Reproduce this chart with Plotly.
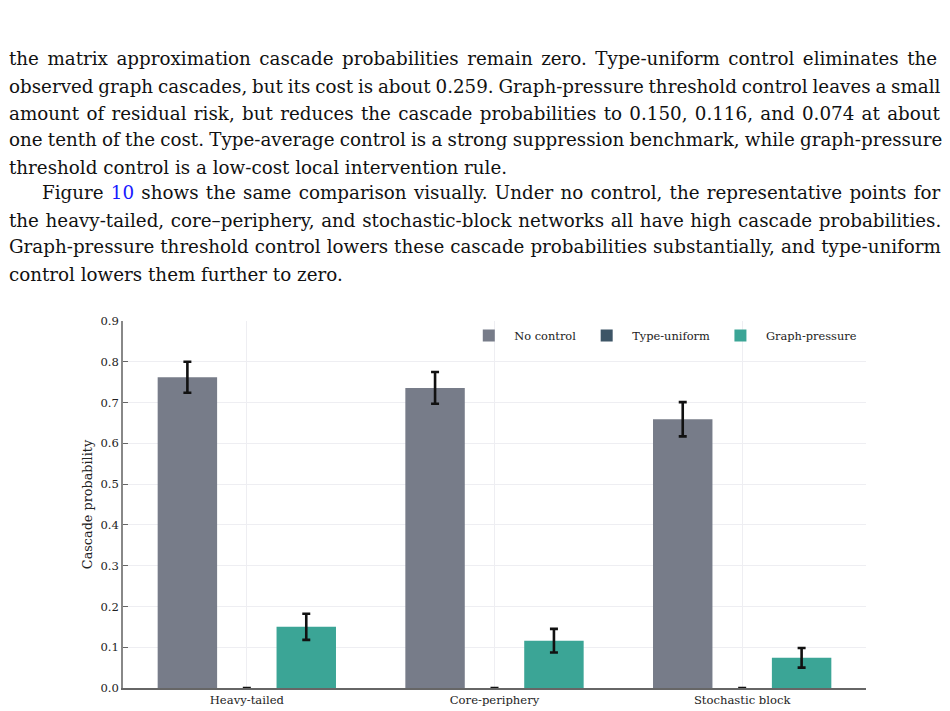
import plotly.graph_objects as go

categories = ["Heavy-tailed", "Core-periphery", "Stochastic block"]
series_names = ["No control", "Type-uniform", "Graph-pressure"]
no_control = [0.762, 0.736, 0.659]
no_control_err = [0.038, 0.039, 0.042]
type_uniform = [0.0, 0.0, 0.0]
type_uniform_err = [0.0, 0.0, 0.0]
graph_pressure = [0.150, 0.116, 0.074]
graph_pressure_err = [0.032, 0.029, 0.024]
y_ticks = [0.0, 0.1, 0.2, 0.3, 0.4, 0.5, 0.6, 0.7, 0.8, 0.9]

body_lines = [
    "the matrix approximation cascade probabilities remain zero. Type-uniform control eliminates the",
    "observed graph cascades, but its cost is about 0.259. Graph-pressure threshold control leaves a small",
    "amount of residual risk, but reduces the cascade probabilities to 0.150, 0.116, and 0.074 at about",
    "one tenth of the cost. Type-average control is a strong suppression benchmark, while graph-pressure",
    "threshold control is a low-cost local intervention rule.",
    "Figure <span style='color:#1a1aff'>10</span> shows the same comparison visually. Under no control, the representative points for",
    "the heavy-tailed, core\u2013periphery, and stochastic-block networks all have high cascade probabilities.",
    "Graph-pressure threshold control lowers these cascade probabilities substantially, and type-uniform",
    "control lowers them further to zero.",
]
# styling of the body text (justification by word spacing, indent, line positions)
word_spacing = [2.7, -1.0, 1.5, -0.6, 0.0, 1.45, 0.8, 0.2, 0.0]
line_x = [7, 7, 7, 7, 7, 40, 7, 7, 7]
line_y = [59, 86, 113, 140, 167, 193, 220, 247, 274]

colors = ["#777c89", "#3d5566", "#3ba596"]
W, H = 950, 711
L, R, T, B = 123, 84, 321, 23
pw, ph = W - L - R, H - T - B

fig = go.Figure()
vals = [no_control, type_uniform, graph_pressure]
errs = [no_control_err, type_uniform_err, graph_pressure_err]
offsets = [-0.36, -0.12, 0.12]
for name, v, e, c, off in zip(series_names, vals, errs, colors, offsets):
    fig.add_trace(go.Bar(
        x=categories, y=v, name=name, marker_color=c, marker_line_width=0,
        width=0.24, offset=off,
        error_y=dict(type="data", array=e, color="#111111", thickness=2.6, width=4),
    ))

font_axis = "DejaVu Serif"
fig.update_layout(
    width=W, height=H,
    margin=dict(l=L, r=R, t=T, b=B, autoexpand=False),
    paper_bgcolor="white", plot_bgcolor="white",
    barmode="overlay",
    showlegend=True,
    legend=dict(orientation="h", x=0.995, xanchor="right", y=1.0, yanchor="top",
                font=dict(family=font_axis, size=11.4, color="#222"),
                bgcolor="rgba(255,255,255,0)", itemwidth=41, tracegroupgap=0),
    font=dict(family=font_axis, size=11, color="#222"),
)
fig.update_xaxes(
    type="category", range=[-0.5, 2.5], showgrid=True, gridcolor="#eeeef2", gridwidth=1.2,
    showline=True, linecolor="#666666", linewidth=1.6, ticks="", ticklen=0, automargin=False,
    tickfont=dict(family=font_axis, size=11.6, color="#222"),
)
fig.update_yaxes(
    range=[0, 0.9], tickvals=y_ticks, ticktext=[f"{t:.1f}" for t in y_ticks],
    showgrid=True, gridcolor="#eeeef2", gridwidth=1.2, zeroline=False, automargin=False,
    showline=True, linecolor="#888888", linewidth=1.6, ticks="inside", ticklen=5,
    tickcolor="#666666", tickfont=dict(family=font_axis, size=11.6, color="#222"),
    title=dict(text="Cascade probability", font=dict(family=font_axis, size=12.8, color="#222"), standoff=5),
)

for txt, px, py, ws in zip(body_lines, line_x, line_y, word_spacing):
    fig.add_annotation(
        xref="paper", yref="paper", x=(px - L) / pw, y=(H - B - py) / ph,
        xanchor="left", yanchor="middle", showarrow=False, align="left",
        text=f"<span style='word-spacing:{ws}px'>{txt}</span>",
        font=dict(family="DejaVu Serif", size=18.3, color="#111"),
    )

fig.write_html("out.html")
